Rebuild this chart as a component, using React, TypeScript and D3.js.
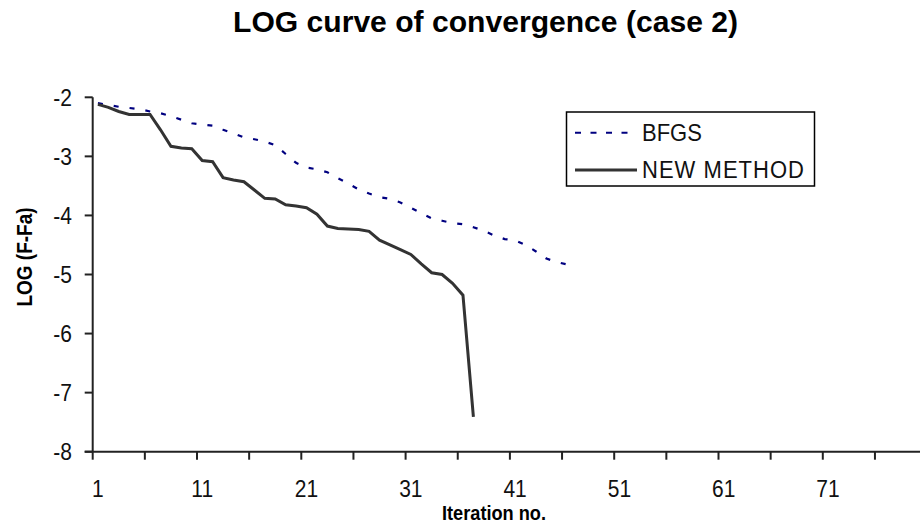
import React from "react";
import * as d3 from "d3";

const W = 920;
const H = 525;

const titleText = "LOG curve of convergence (case 2)";
const xAxisTitle = "Iteration no.";
const yAxisTitle = "LOG (F-Fa)";

const seriesNames = ["BFGS", "NEW METHOD"];

const bfgs = [
  -2.10, -2.13, -2.16, -2.18, -2.20, -2.24, -2.27, -2.32, -2.38, -2.44,
  -2.46, -2.48, -2.55, -2.61, -2.68, -2.71, -2.75, -2.81, -2.96, -3.11,
  -3.19, -3.22, -3.27, -3.37, -3.46, -3.56, -3.63, -3.69, -3.72, -3.78,
  -3.87, -3.96, -4.05, -4.09, -4.13, -4.15, -4.20, -4.26, -4.34, -4.40,
  -4.42, -4.50, -4.61, -4.73, -4.79, -4.83,
];

const newMethod = [
  -2.12, -2.17, -2.24, -2.29, -2.29, -2.29, -2.55, -2.83, -2.86, -2.87,
  -3.07, -3.09, -3.36, -3.40, -3.43, -3.57, -3.71, -3.72, -3.82, -3.84,
  -3.87, -3.98, -4.18, -4.22, -4.23, -4.24, -4.27, -4.42, -4.50, -4.58,
  -4.66, -4.82, -4.97, -5.00, -5.15, -5.35, -7.41,
];

const xTickLabels = [1, 11, 21, 31, 41, 51, 61, 71];
const yTicks = [-2, -3, -4, -5, -6, -7, -8];
const categoryCount = 80;

export default function App() {
  const x0 = 92.7;
  const step = 10.43;
  const x = d3
    .scaleLinear()
    .domain([0.5, categoryCount + 0.5])
    .range([x0, x0 + categoryCount * step]);
  const y = d3.scaleLinear().domain([-2, -8]).range([97.3, 451.7]);

  const line = d3
    .line<number>()
    .x((_, i) => x(i + 1))
    .y((d) => y(d));

  const boundaryTicks = d3.range(0, categoryCount + 1, 5).map((v) => v + 0.5);
  const font = "'Liberation Sans', Arial, sans-serif";
  const axisColor = "#222";

  return (
    <svg
      width={W}
      height={H}
      style={{ position: "absolute", left: 0, top: 0, background: "#fff" }}
      fontFamily={font}
    >
      <rect x={0} y={0} width={W} height={H} fill="#fff" />
      {/* title */}
      <text
        transform="translate(485.5,32.3) scale(1,1.08)"
        textAnchor="middle"
        fontSize={27}
        fontWeight="bold"
        textLength={505}
        lengthAdjust="spacingAndGlyphs"
        fill="#000"
      >
        {titleText}
      </text>

      {/* series */}
      <path
        d={line(bfgs) || ""}
        fill="none"
        stroke="#000080"
        strokeWidth={2.2}
        strokeDasharray="5,11"
      />
      <path
        d={line(newMethod) || ""}
        fill="none"
        stroke="#333"
        strokeWidth={3}
        strokeLinejoin="miter"
      />

      {/* y axis */}
      <line x1={x0} x2={x0} y1={y(-2)} y2={y(-8)} stroke={axisColor} strokeWidth={2} />
      {yTicks.map((t) => (
        <g key={t}>
          <line x1={x0 - 8} x2={x0} y1={y(t)} y2={y(t)} stroke={axisColor} strokeWidth={2} />
          <text
            transform={`translate(72,${y(t) + 8.5}) scale(1,1.13)`}
            textAnchor="end"
            fontSize={21}
            fill="#111"
          >
            {t}
          </text>
        </g>
      ))}

      {/* x axis */}
      <line x1={x0 - 8} x2={W} y1={y(-8)} y2={y(-8)} stroke={axisColor} strokeWidth={2} />
      {boundaryTicks.map((t) => (
        <line
          key={t}
          x1={x(t)}
          x2={x(t)}
          y1={y(-8)}
          y2={y(-8) + 8}
          stroke={axisColor}
          strokeWidth={2}
        />
      ))}
      {xTickLabels.map((t) => (
        <text
          key={t}
          transform={`translate(${x(t)},497) scale(1,1.13)`}
          textAnchor="middle"
          fontSize={21}
          fill="#111"
        >
          {t}
        </text>
      ))}

      {/* axis titles */}
      <text
        transform="translate(494,519.5) scale(1,1.08)"
        textAnchor="middle"
        fontSize={19}
        fontWeight="bold"
        textLength={104}
        lengthAdjust="spacingAndGlyphs"
        fill="#000"
      >
        {xAxisTitle}
      </text>
      <text
        transform="translate(32,257) rotate(-90)"
        textAnchor="middle"
        fontSize={22}
        fontWeight="bold"
        textLength={99}
        lengthAdjust="spacingAndGlyphs"
        fill="#000"
      >
        {yAxisTitle}
      </text>

      {/* legend */}
      <rect x={566.5} y={112} width={248} height={74} fill="#fff" stroke="#000" strokeWidth={1.5} />
      <line
        x1={575}
        x2={637}
        y1={132.7}
        y2={132.7}
        stroke="#000080"
        strokeWidth={2}
        strokeDasharray="6,9.5"
      />
      <text
        transform="translate(642,140.5) scale(1,1.08)"
        fontSize={22}
        fill="#111"
      >
        {seriesNames[0]}
      </text>
      <line x1={575} x2={637} y1={170} y2={170} stroke="#333" strokeWidth={3} />
      <text
        transform="translate(642,178) scale(1,1.08)"
        fontSize={22}
        fill="#111"
        textLength={162}
        lengthAdjust="spacing"
      >
        {seriesNames[1]}
      </text>
    </svg>
  );
}
